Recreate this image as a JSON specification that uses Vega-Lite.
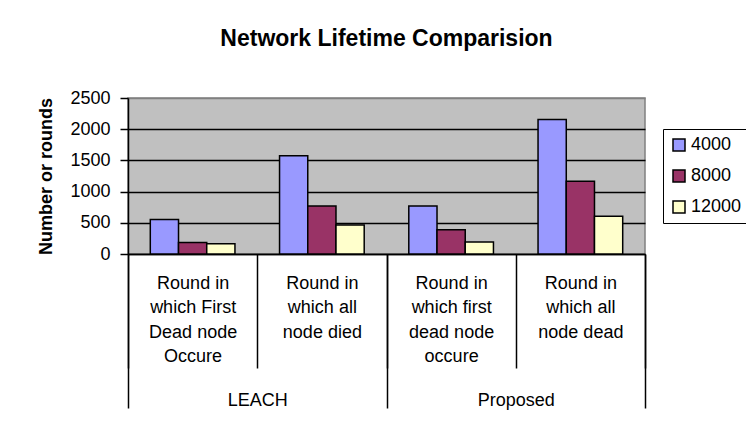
{
  "$schema": "https://vega.github.io/schema/vega-lite/v6.json",
  "autosize": {"type": "none"},
  "padding": {"left": 128, "top": 98, "right": 101, "bottom": 173},
  "width": 517,
  "height": 156,
  "background": "white",
  "config": {
    "font": "Liberation Sans",
    "view": {"fill": "#C0C0C0", "stroke": "#808080", "strokeWidth": 1.5},
    "axisY": {
      "title": "Number or rounds",
      "titleFontSize": 18,
      "titleFontWeight": "bold",
      "titleColor": "black",
      "titlePadding": 14,
      "labelFontSize": 18,
      "labelColor": "black",
      "labelPadding": 10,
      "labelOverlap": false,
      "format": "d",
      "tickSize": 8,
      "tickColor": "black",
      "tickWidth": 1.5,
      "domainColor": "black",
      "domainWidth": 1.5,
      "grid": true,
      "gridColor": "black",
      "gridWidth": 1.5
    }
  },
  "title": {
    "text": "Network Lifetime Comparision",
    "fontSize": 23,
    "fontWeight": "bold",
    "color": "black",
    "anchor": "middle",
    "offset": 38
  },
  "data": {
    "values": [
      {"group": "LEACH", "cat": "Round in|which First|Dead node|Occure", "series": "4000", "value": 553},
      {"group": "LEACH", "cat": "Round in|which First|Dead node|Occure", "series": "8000", "value": 186},
      {"group": "LEACH", "cat": "Round in|which First|Dead node|Occure", "series": "12000", "value": 165},
      {"group": "LEACH", "cat": "Round in|which all|node died", "series": "4000", "value": 1574},
      {"group": "LEACH", "cat": "Round in|which all|node died", "series": "8000", "value": 771},
      {"group": "LEACH", "cat": "Round in|which all|node died", "series": "12000", "value": 463},
      {"group": "Proposed", "cat": "Round in|which first|dead node|occure", "series": "4000", "value": 771},
      {"group": "Proposed", "cat": "Round in|which first|dead node|occure", "series": "8000", "value": 388},
      {"group": "Proposed", "cat": "Round in|which first|dead node|occure", "series": "12000", "value": 191},
      {"group": "Proposed", "cat": "Round in|which all|node dead", "series": "4000", "value": 2154},
      {"group": "Proposed", "cat": "Round in|which all|node dead", "series": "8000", "value": 1165},
      {"group": "Proposed", "cat": "Round in|which all|node dead", "series": "12000", "value": 606}
    ]
  },
  "layer": [
    {
      "mark": {"type": "bar", "stroke": "black", "strokeWidth": 1.5},
      "encoding": {
        "x": {
          "field": "cat",
          "type": "nominal",
          "sort": ["Round in|which First|Dead node|Occure", "Round in|which all|node died", "Round in|which first|dead node|occure", "Round in|which all|node dead"],
          "scale": {"paddingInner": 0, "paddingOuter": 0},
          "axis": {
            "orient": "bottom",
            "title": null,
            "labelExpr": "split(datum.label, '|')",
            "labelFontSize": 18,
            "labelLineHeight": 24.5,
            "labelColor": "black",
            "labelAngle": 0,
            "labelBaseline": "top",
            "labelPadding": -94,
            "tickBand": "extent",
            "tickSize": 114,
            "tickColor": "black",
            "tickWidth": 1.5,
            "domainColor": "black",
            "domainWidth": 1.5,
            "grid": false
          }
        },
        "xOffset": {
          "field": "series",
          "type": "nominal",
          "sort": ["4000", "8000", "12000"],
          "scale": {"paddingInner": 0, "paddingOuter": 0.79}
        },
        "y": {
          "field": "value",
          "type": "quantitative",
          "scale": {"domain": [0, 2500]},
          "axis": {
            "values": [0, 500, 1000, 1500, 2000, 2500],
            "title": "Number or rounds",
            "gridColor": {"condition": {"test": "datum.value == 2500", "value": "#808080"}, "value": "black"}
          }
        },
        "color": {
          "field": "series",
          "type": "nominal",
          "sort": ["4000", "8000", "12000"],
          "scale": {"domain": ["4000", "8000", "12000"], "range": ["#9999FF", "#993366", "#FFFFCC"]},
          "legend": {
            "title": null,
            "orient": "none",
            "legendX": 535,
            "legendY": 31,
            "padding": 7,
            "strokeColor": "black",
            "fillColor": "white",
            "symbolType": "square",
            "symbolSize": 144,
            "symbolStrokeColor": "black",
            "symbolStrokeWidth": 1.5,
            "symbolOpacity": 1,
            "labelFontSize": 18,
            "labelColor": "black",
            "labelOffset": 3,
            "rowPadding": 13
          }
        }
      }
    },
    {
      "mark": {"type": "bar", "opacity": 0},
      "encoding": {
        "x": {
          "field": "group",
          "type": "nominal",
          "sort": ["LEACH", "Proposed"],
          "scale": {"paddingInner": 0, "paddingOuter": 0},
          "axis": {
            "orient": "bottom",
            "title": null,
            "labelFontSize": 18,
            "labelColor": "black",
            "labelAngle": 0,
            "labelBaseline": "top",
            "labelPadding": -17,
            "tickBand": "extent",
            "tickSize": 154,
            "tickColor": "black",
            "tickWidth": 1.5,
            "domain": false,
            "grid": false
          }
        },
        "y": {
          "field": "value",
          "type": "quantitative",
          "stack": null,
          "scale": {"domain": [0, 2500]},
          "axis": {
            "values": [0, 500, 1000, 1500, 2000, 2500],
            "title": "Number or rounds",
            "gridColor": {"condition": {"test": "datum.value == 2500", "value": "#808080"}, "value": "black"}
          }
        }
      }
    }
  ],
  "resolve": {"scale": {"x": "independent"}, "axis": {"x": "independent"}}
}
